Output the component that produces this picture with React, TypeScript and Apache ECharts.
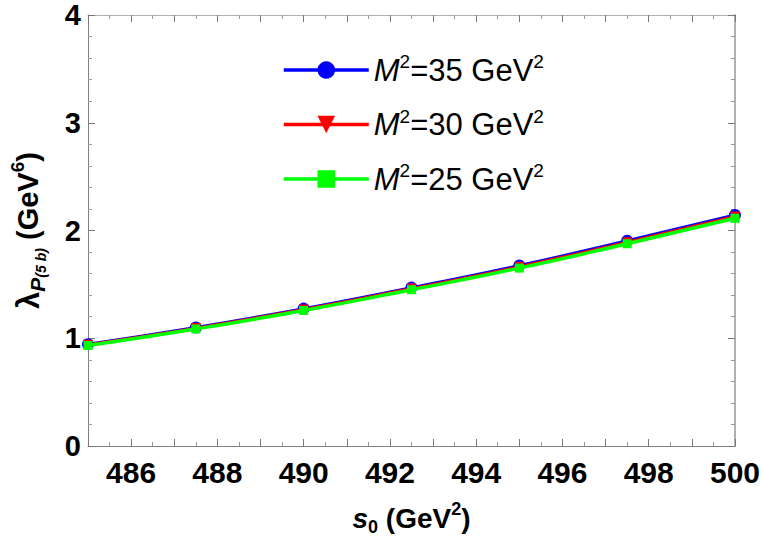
import React, { useEffect, useRef } from "react";
import * as echarts from "echarts";

const sValues = [485, 487.5, 490, 492.5, 495, 497.5, 500];
const lambdaM35 = [0.945, 1.1, 1.275, 1.47, 1.675, 1.905, 2.145];
const lambdaM30 = [0.94, 1.094, 1.267, 1.461, 1.664, 1.892, 2.13];
const lambdaM25 = [0.933, 1.086, 1.258, 1.45, 1.651, 1.877, 2.113];
const seriesNames = ["M2=35", "M2=30", "M2=25"];
const seriesMasses = ["35", "30", "25"];

const FONT = "Arial, 'Liberation Sans', Helvetica, sans-serif";

export default function App() {
  const ref = useRef<HTMLDivElement>(null);
  useEffect(() => {
    if (!ref.current) return;
    const chart = echarts.init(ref.current, null, { renderer: "svg" });
    const pairs = (ys: number[]) => sValues.map((x, i) => [x, ys[i]]);
    const axisCommonX = {
      type: "value" as const,
      min: 485,
      max: 500,
      interval: 1,
    };
    const axisCommonY = {
      type: "value" as const,
      min: 0,
      max: 4,
      interval: 1,
    };
    const legendRich = {
      m: { fontFamily: FONT, fontSize: 31, fontStyle: "italic", lineHeight: 36, color: "#000" },
      s: { fontFamily: FONT, fontSize: 19, lineHeight: 19, verticalAlign: "top", color: "#000" },
      t: { fontFamily: FONT, fontSize: 31, lineHeight: 36, color: "#000" },
    };
    chart.setOption({
      animation: false,
      backgroundColor: "#fff",
      grid: { left: 87, top: 15, right: 23, bottom: 99, containLabel: false },
      legend: {
        left: 277,
        top: 47,
        orient: "vertical",
        itemWidth: 85,
        itemHeight: 22,
        itemGap: 21,
        itemTextGap: 12,
        data: seriesNames,
        lineStyle: { width: 3.5 },
        formatter: (name: string) => {
          const idx = seriesNames.indexOf(name);
          return `{m|M}{s|2}{t|=${seriesMasses[idx]} GeV}{s|2}`;
        },
        textStyle: { rich: legendRich },
      },
      xAxis: [
        {
          ...axisCommonX,
          position: "bottom",
          name: "{i|s}{sub|0}{t| (GeV}{sup|2}{t|)}",
          nameLocation: "middle",
          nameGap: 54,
          nameTextStyle: {
            rich: {
              i: { fontFamily: FONT, fontSize: 28, fontWeight: "bold", fontStyle: "italic", lineHeight: 36, color: "#000" },
              sub: { fontFamily: FONT, fontSize: 18, fontWeight: "bold", lineHeight: 20, verticalAlign: "bottom", color: "#000" },
              sup: { fontFamily: FONT, fontSize: 18, fontWeight: "bold", lineHeight: 17, verticalAlign: "top", color: "#000" },
              t: { fontFamily: FONT, fontSize: 28, fontWeight: "bold", lineHeight: 36, color: "#000" },
            },
          },
          axisLine: { show: true, onZero: false, lineStyle: { color: "#808080", width: 1 } },
          axisTick: { show: true, inside: true, length: 7, lineStyle: { color: "#777" } },
          minorTick: { show: true, splitNumber: 2, length: 4, lineStyle: { color: "#999" } },
          splitLine: { show: false },
          axisLabel: {
            show: true,
            margin: 11,
            fontFamily: FONT,
            fontSize: 30,
            fontWeight: "bold",
            color: "#000",
            formatter: (v: number) => (Math.round(v) % 2 === 0 ? String(Math.round(v)) : ""),
            showMinLabel: true,
            showMaxLabel: true,
          },
        },
        {
          ...axisCommonX,
          position: "top",
          axisLine: { show: true, onZero: false, lineStyle: { color: "#b0b0b0", width: 1 } },
          axisTick: { show: true, inside: true, length: 7, lineStyle: { color: "#777" } },
          minorTick: { show: true, splitNumber: 2, length: 4, lineStyle: { color: "#999" } },
          splitLine: { show: false },
          axisLabel: { show: false },
        },
      ],
      yAxis: [
        {
          ...axisCommonY,
          position: "left",
          name: "{l|λ}{p|P}{q|(5 b)}{t| (GeV}{sup|6}{t|)}",
          nameLocation: "middle",
          nameGap: 40,
          nameRotate: 90,
          nameTextStyle: {
            rich: {
              l: { fontFamily: FONT, fontSize: 31, fontWeight: "bold", lineHeight: 40, color: "#000" },
              p: { fontFamily: FONT, fontSize: 21, fontWeight: "bold", fontStyle: "italic", lineHeight: 26, verticalAlign: "bottom", color: "#000" },
              q: { fontFamily: FONT, fontSize: 14, fontWeight: "bold", fontStyle: "italic", lineHeight: 13, verticalAlign: "bottom", color: "#000" },
              sup: { fontFamily: FONT, fontSize: 19, fontWeight: "bold", lineHeight: 18, verticalAlign: "top", color: "#000" },
              t: { fontFamily: FONT, fontSize: 29, fontWeight: "bold", lineHeight: 40, color: "#000" },
            },
          },
          axisLine: { show: true, onZero: false, lineStyle: { color: "#808080", width: 1 } },
          axisTick: { show: true, inside: true, length: 7, lineStyle: { color: "#777" } },
          minorTick: { show: true, splitNumber: 5, length: 4, lineStyle: { color: "#999" } },
          splitLine: { show: false },
          axisLabel: {
            show: true,
            margin: 7,
            fontFamily: FONT,
            fontSize: 29,
            fontWeight: "bold",
            color: "#000",
          },
        },
        {
          ...axisCommonY,
          position: "right",
          axisLine: { show: true, onZero: false, lineStyle: { color: "#b0b0b0", width: 2 } },
          axisTick: { show: true, inside: true, length: 7, lineStyle: { color: "#777" } },
          minorTick: { show: true, splitNumber: 5, length: 4, lineStyle: { color: "#999" } },
          splitLine: { show: false },
          axisLabel: { show: false },
        },
      ],
      series: [
        {
          name: seriesNames[0],
          type: "line",
          data: pairs(lambdaM35),
          smooth: true,
          symbol: "circle",
          symbolSize: 12,
          showAllSymbol: true,
          lineStyle: { color: "#0000ff", width: 3 },
          itemStyle: { color: "#0000ff" },
          z: 2,
        },
        {
          name: seriesNames[1],
          type: "line",
          data: pairs(lambdaM30),
          smooth: true,
          symbol: "triangle",
          symbolRotate: 180,
          symbolSize: 10,
          showAllSymbol: true,
          lineStyle: { color: "#ff0000", width: 3 },
          itemStyle: { color: "#ff0000" },
          z: 3,
        },
        {
          name: seriesNames[2],
          type: "line",
          data: pairs(lambdaM25),
          smooth: true,
          symbol: "rect",
          symbolSize: 9,
          showAllSymbol: true,
          lineStyle: { color: "#00ff00", width: 3.5 },
          itemStyle: { color: "#00ff00" },
          z: 4,
        },
      ],
    });
    return () => chart.dispose();
  }, []);
  return (
    <div
      ref={ref}
      style={{ position: "fixed", left: 0, top: 0, width: 763, height: 545, background: "#fff" }}
    />
  );
}
